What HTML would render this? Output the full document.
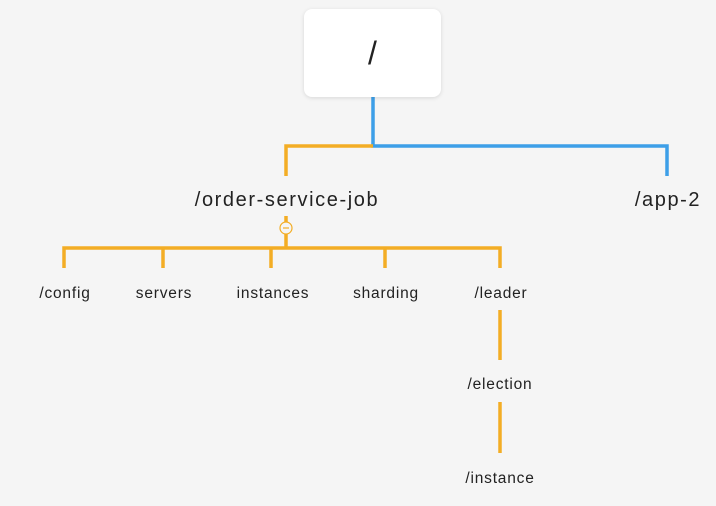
<!DOCTYPE html>
<html><head><style>
body{margin:0;background:#f5f5f5;}
.w{position:relative;width:716px;height:506px;background:#f5f5f5;font-family:"Liberation Sans",sans-serif;color:#222;overflow:hidden}
.box{position:absolute;left:304px;top:9px;width:137px;height:88px;background:#fff;border-radius:8px;box-shadow:0 1px 4px rgba(0,0,0,.12);display:flex;align-items:center;justify-content:center;font-size:32px;font-weight:300}
.t{position:absolute;transform:translateX(-50%);white-space:nowrap;font-size:15.5px;line-height:18px;letter-spacing:0.8px}
.b{font-size:20px;line-height:22px;letter-spacing:1.6px}
</style></head><body><div class="w">
<svg width="716" height="506" style="position:absolute;left:0;top:0" fill="none" stroke-width="3.5">
<path d="M373 97V146H667V176" stroke="#3d9fe8"/>
<path d="M373 146H286V176" stroke="#f3ad25"/>
<path d="M286 216V248M64 268V248H500V268M163 248V268M271 248V268M385 248V268M500 310V360M500 402V453" stroke="#f3ad25"/>
<circle cx="286" cy="228" r="6" fill="#f5f5f5" stroke="#f3ad25" stroke-width="1.2"/>
<path d="M283 228H289" stroke="#f3ad25" stroke-width="1.2"/>
</svg>
<div class="box">/</div>
<div class="t b" style="left:287px;top:189px">/order-service-job</div>
<div class="t b" style="left:668px;top:189px">/app-2</div>
<div class="t" style="left:65px;top:285px">/config</div>
<div class="t" style="left:164px;top:285px">servers</div>
<div class="t" style="left:273px;top:285px">instances</div>
<div class="t" style="left:386px;top:285px">sharding</div>
<div class="t" style="left:501px;top:285px">/leader</div>
<div class="t" style="left:500px;top:376px">/election</div>
<div class="t" style="left:500px;top:470px">/instance</div>
</div></body></html>
